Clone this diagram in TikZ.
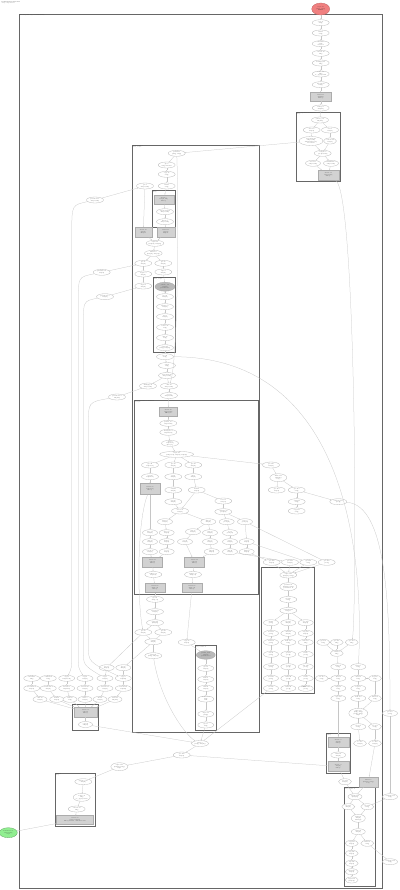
\documentclass[tikz,border=0pt]{standalone}
\usetikzlibrary{shapes.geometric,arrows.meta}
\definecolor{rootred}{RGB}{240,128,128}
\definecolor{leafgreen}{RGB}{144,238,144}
\begin{document}
\begin{tikzpicture}[x=1mm, y=-1mm,
      op/.style = {ellipse, draw=gray!55, line width=0.3mm, fill=white,
                   inner sep=0pt, minimum width=17mm, minimum height=6mm,
                   align=center, text=black!85, font=\fontsize{3.6}{4.2}\selectfont},
      fus/.style = {rectangle, draw=gray!65, fill=gray!35, line width=0.3mm,
                    inner sep=0.4mm, minimum width=20mm, minimum height=9mm,
                    align=center, text=black!85, font=\fontsize{3.6}{4.2}\selectfont},
      parm/.style = {op, fill=gray!55, draw=gray!70},
      rootop/.style = {op, fill=rootred, draw=rootred!80!black, minimum width=18mm, minimum height=12mm},
      leafop/.style = {op, fill=leafgreen, draw=leafgreen!70!black, minimum width=18mm, minimum height=10mm},
      grp/.style = {draw=black!60, line width=0.45mm},
      grplabel/.style = {anchor=north west, inner sep=0.5mm, align=left,
                         text=black!80, font=\fontsize{3}{3.5}\selectfont},
      wire/.style = {-{Stealth[length=1.1mm,width=0.9mm]}, draw=gray!45, line width=0.25mm}
    ]
    \fill[white] (0,0) rectangle (400,890);
    \useasboundingbox (0,0) rectangle (400,890);

    % Title and clusters
    \node[grplabel, font=\fontsize{3.4}{3.9}\selectfont] (title) at (1,1) {\textbf{Computation main.102}\\entry computation};
    \draw[grp] (19,14.3) rectangle (382,888.3);
    \node[grplabel] (outerlbl) at (19,14.3) {main.102 (while loop, 187 instructions)};
    \draw[grp] (296,112.3) rectangle (340,181);
    \node[grplabel] (lbl1) at (296,112.3) {Fused expression for fusion.31\\kLoop};
    \draw[grp] (132.3,145) rectangle (259,732);
    \node[grplabel] (lbl2) at (132.3,145) {Body of while.5\\while\_body.4};
    \draw[grp] (152.3,190) rectangle (175.3,227.3);
    \node[grplabel] (lbl3) at (152.3,190) {fusion.9\\kLoop};
    \draw[grp] (153.3,277) rectangle (175.5,352.3);
    \node[grplabel] (lbl4) at (153.3,277) {Body of while.12\\while\_body.7};
    \draw[grp] (134.3,400) rectangle (258.3,594.3);
    \node[grplabel] (lbl5) at (134.3,400) {Fused expression for fusion.40\\kOutput};
    \draw[grp] (261.7,567.3) rectangle (314.3,693.3);
    \node[grplabel] (lbl6) at (261.7,567.3) {Condition of while.5};
    \draw[grp] (195,645.7) rectangle (216.7,730);
    \node[grplabel] (lbl7) at (195,645.7) {Body of while.21};
    \draw[grp] (72.7,704) rectangle (98.3,730.5);
    \node[grplabel] (lbl8) at (72.7,704) {fusion.51};
    \draw[grp] (326.7,733.3) rectangle (350,773.3);
    \node[grplabel] (lbl9) at (326.7,733.3) {fusion.55\\kLoop};
    \draw[grp] (344,787.7) rectangle (375,886.7);
    \node[grplabel] (lbl10) at (344,787.7) {Body of while.18};
    \draw[grp] (55,773.3) rectangle (95.7,826.7);
    \node[grplabel] (lbl11) at (55,773.3) {fusion.60\\kLoop};

    % Nodes: result chain
    \node[rootop] (out) at (320.7,9) {tuple.88\\(f32[], s32[])\\ROOT};
    \node[op] (t1) at (320.7,22.7) {copy.51\\s32[]};
    \node[op] (t2) at (320.7,33) {add.73\\s32[]};
    \node[op] (t3) at (320.7,43.7) {constant.9\\s32[]\\value=1};
    \node[op] (t4) at (320.7,53.3) {convert.12\\f32[]};
    \node[op] (t5) at (320.7,63) {multiply.40\\f32[]};
    \node[op] (t6) at (320.7,74) {reduce.17\\f32[]\\to\_apply=sum};
    \node[op] (t7) at (320.7,84.7) {bitcast.22\\f32[1]};
    \node[fus, minimum width=21mm] (t8) at (320.7,96.7) {fusion.31\\f32[128]\\kLoop};
    \node[op] (t9) at (320.7,108) {reshape.6\\f32[128]};

    % Nodes: fusion.31
    \node[op] (u1) at (320,120) {param\_0.4\\f32[128]};
    \node[op] (u2) at (311.7,130) {slice.18\\f32[64]};
    \node[op] (u3) at (330,130) {iota.3\\s32[64]};
    \node[op, minimum width=24mm, minimum height=9mm] (u4) at (311,141) {broadcast.27\\f32[64,128]\\dimensions=\{0\}\\broadcast};
    \node[op, minimum width=13mm] (u5) at (330,141) {convert.44\\f32[64]};
    \node[op] (u6) at (322.7,153.3) {compare.8\\pred[64,128]};
    \node[op, minimum width=15mm] (u7) at (313,163.3) {select.15\\f32[64,128]};
    \node[op, minimum width=15mm] (u8) at (331,163.3) {maximum.6\\f32[64,128]};
    \node[fus, minimum width=21mm, minimum height=10mm] (u9) at (328.3,175) {fusion.32\\f32[64,128]\\kLoop};

    % Nodes: while body, upper part
    \node[op] (a1) at (176.7,153.3) {param.11\\(s32[], f32[])};
    \node[op] (a2) at (166.7,165) {gte.7\\s32[] index=0};
    \node[op] (a3) at (166.7,174.3) {copy.19\\s32[]};
    \node[op] (a4) at (145,186) {gte.8\\f32[64,128]};
    \node[op] (a5) at (166.7,186) {add.21\\s32[]};
    \node[fus] (a6) at (163.8,199.3) {fusion.9\\f32[64,128]\\kLoop};
    \node[op] (a7) at (165,211.7) {exponential.2\\f32[64,128]};
    \node[op] (a8) at (165,221.7) {divide.6\\f32[64,128]};
    \node[fus, minimum width=17mm, minimum height=10mm] (a9) at (143.3,232) {fusion.10\\f32[64]\\kInput};
    \node[fus, minimum width=18mm, minimum height=10mm] (a10) at (165.8,232) {fusion.11\\f32[64]\\kInput};
    \node[op] (a11) at (155,243.3) {tuple.14\\(f32[64], f32[64])};
    \node[op] (a12) at (153.3,253.3) {while.12\\(f32[64], f32[64])};
    \node[op] (a13) at (143.3,263.3) {gte.15\\f32[64]};
    \node[op] (a14) at (163.3,263.3) {gte.16\\f32[64]};
    \node[op] (a15) at (143.3,274) {negate.3\\f32[64]};
    \node[op] (a16) at (163.3,272) {sqrt.4\\f32[64]};
    \node[op] (a17) at (143.3,286) {rsqrt.2\\f32[64]};
    \node[parm, minimum width=20mm, minimum height=9mm] (a18) at (165,286.7) {param\_1.2\\f32[64]\\parameter 1};
    \node[op] (a19) at (165,296.7) {gte.23\\f32[64]};
    \node[op] (a20) at (165,306.7) {subtract.5\\f32[64]};
    \node[op] (a21) at (165,316.7) {abs.3\\f32[64]};
    \node[op] (a22) at (165,327.3) {reduce.25\\f32[]};
    \node[op] (a23) at (165,337.7) {add.26\\f32[]};
    \node[op] (a24) at (165,347.7) {tuple.27\\(f32[], f32[64])};
    \node[op] (a25) at (165,356.7) {gte.28\\f32[]};
    \node[op] (a26) at (167,365.5) {sqrt.8\\f32[]};
    \node[op] (a27) at (167,375.5) {broadcast.30\\f32[64,128]};
    \node[op] (a28) at (148,386) {multiply.31\\f32[64,128]};
    \node[op] (a29) at (169,386) {add.32\\f32[64,128]};
    \node[op] (a30) at (169,395.5) {copy.33\\f32[64,128]};

    % Nodes: parameters on the left
    \node[op] (p1) at (95,200) {parameter.1\\f32[64,128]};
    \node[op] (p2) at (101.7,272.3) {parameter.2\\f32[64]};
    \node[op] (p3) at (105,296.7) {parameter.3\\f32[64]};
    \node[op] (p4) at (117,397) {parameter.4\\f32[128]};

    % Nodes: fusion.40
    \node[fus, minimum width=18mm, minimum height=9.5mm] (b1) at (168.3,411.7) {fusion.40\\f32[64,128]\\kOutput};
    \node[op] (b2) at (168.3,423.3) {param\_0.9\\f32[64,128]};
    \node[op] (b3) at (168.3,432.3) {transpose.4\\f32[128,64]};
    \node[op] (b4) at (170,443.3) {dot.12\\f32[64,64]\\lhs=\{1\}};
    \node[op, minimum width=34mm] (b5) at (176.7,454.3) {tuple.41\\(f32[64,64], f32[64], f32[64])};
    \node[op] (b6) at (150,465) {gte.42\\f32[64,64]};
    \node[op] (b7) at (173.3,465) {gte.43\\f32[64]};
    \node[op] (b8) at (193.3,465) {gte.44\\f32[64]};
    \node[op] (b9) at (150,476.7) {copy.45\\f32[64,64]};
    \node[op] (b10) at (173.3,476.7) {log.2\\f32[64]};
    \node[op] (b11) at (193.3,476.7) {exp.3\\f32[64]};
    \node[fus, minimum width=20mm, minimum height=11mm] (b12) at (150,489) {fusion.46\\f32[64,64]\\kLoop};
    \node[op] (b13) at (173.3,490) {add.47\\f32[64]};
    \node[op] (b14) at (196.7,490) {mul.48\\f32[64]};
    \node[op] (b15) at (173.3,501.7) {neg.49\\f32[64]};
    \node[op] (b16) at (180,511) {select.50\\f32[64]};
    \node[op] (b17) at (223.3,501) {iota.51\\s32[64]};
    \node[op] (b18) at (223.3,511.7) {compare.52\\pred[64]};
    \node[op, minimum width=15mm] (b19) at (165,521.7) {max.53\\f32[64]};
    \node[op, minimum width=15mm] (b20) at (208.3,521.7) {min.54\\f32[64]};
    \node[op, minimum width=15mm] (b21) at (226.7,521.7) {and.55\\pred[64]};
    \node[op, minimum width=15mm] (b22) at (245,521.7) {not.56\\pred[64]};
    \node[op, minimum width=15mm] (b23) at (150,532.7) {slice.57\\f32[32]};
    \node[op, minimum width=15mm] (b24) at (166.7,532.7) {slice.58\\f32[32]};
    \node[op, minimum width=15mm] (b25) at (193,531.7) {pad.59\\f32[64]};
    \node[op, minimum width=15mm] (b26) at (210,532.7) {sub.60\\f32[64]};
    \node[op, minimum width=15mm] (b27) at (230,532.7) {or.61\\pred[64]};
    \node[op, minimum width=15mm] (b28) at (150,541.7) {add.62\\f32[32]};
    \node[op, minimum width=15mm] (b29) at (166.7,541.7) {mul.63\\f32[32]};
    \node[op, minimum width=15mm] (b30) at (185,541.7) {cvt.64\\f32[64]};
    \node[op, minimum width=15mm] (b31) at (210,541.7) {abs.65\\f32[64]};
    \node[op, minimum width=15mm] (b32) at (230,541.7) {sel.66\\f32[64]};
    \node[op, minimum width=15mm] (b33) at (246.7,541.7) {cvt.67\\f32[64]};
    \node[op, minimum width=15mm] (b34) at (150,551.7) {concat.68\\f32[64]};
    \node[op, minimum width=15mm] (b35) at (166.7,551.7) {rev.69\\f32[64]};
    \node[op, minimum width=15mm] (b36) at (211.7,551.7) {sqrt.70\\f32[64]};
    \node[op, minimum width=15mm] (b37) at (230,551.7) {add.71\\f32[64]};
    \node[op, minimum width=15mm] (b38) at (246.7,551.7) {max.72\\f32[64]};
    \node[fus, minimum height=10mm] (b39) at (152.5,562) {fusion.73\\f32[64]\\kLoop};
    \node[fus, minimum height=10mm] (b40) at (194.5,562) {fusion.74\\f32[64]\\kLoop};
    \node[op] (b41) at (153.3,574.5) {reshape.75\\f32[1,64]};
    \node[op] (b42) at (193,574.5) {reshape.76\\f32[1,64]};
    \node[fus] (b43) at (155,588) {fusion.77\\f32[1,64]\\kLoop};
    \node[fus] (b44) at (192,588) {fusion.78\\f32[1,64]\\kLoop};

    % Nodes: while body, lower part
    \node[op] (d1) at (155,599.3) {gte.80\\f32[1,64]};
    \node[op] (d2) at (155,611.7) {bitcast.81\\f32[64]};
    \node[op] (d3) at (155,622.7) {tuple.82\\(f32[64])};
    \node[op] (d4) at (143.3,632.3) {gte.83\\f32[64]};
    \node[op] (d5) at (163.3,632.3) {gte.84\\f32[64]};
    \node[op] (d6) at (153.3,641.7) {add.85\\f32[64]};
    \node[op] (d7) at (186.7,642.3) {copy.86\\f32[64]};
    \node[op] (d8) at (153.3,655.7) {tuple.87\\(s32[], f32[64])};
    \node[parm, minimum width=19mm, minimum height=8.5mm] (e1) at (205.8,655) {param\_0.12\\f32[64]\\parameter 0};
    \node[op, minimum width=16mm] (e2) at (205.8,668.3) {gte.90\\f32[64]};
    \node[op, minimum width=16mm] (e3) at (205.8,679.3) {mul.91\\f32[64]};
    \node[op, minimum width=16mm] (e4) at (205.8,688.3) {add.92\\f32[64]};
    \node[op, minimum width=16mm] (e5) at (205.8,699) {reduce.93\\f32[]\\sum};
    \node[op, minimum width=16mm] (e6) at (205.8,714) {tuple.94\\(f32[])};
    \node[op, minimum width=16mm] (e7) at (205.8,725) {gte.95\\f32[]};

    % Nodes: left rows
    \node[op, minimum width=15mm] (q1) at (106.7,667.7) {gte.96\\f32[64]};
    \node[op, minimum width=15mm] (q2) at (123.3,667.7) {gte.97\\f32[64]};
    \node[op, minimum width=16mm] (m1) at (31.7,678.3) {constant.1\\f32[]};
    \node[op, minimum width=16mm] (m2) at (48.3,678.3) {constant.2\\f32[]};
    \node[op, minimum width=16mm] (m3) at (66.7,678.3) {copy.3\\f32[64,128]};
    \node[op, minimum width=16mm] (m4) at (85,678.3) {copy.4\\f32[64]};
    \node[op, minimum width=16mm] (m5) at (105,678.3) {copy.5\\f32[64]};
    \node[op, minimum width=16mm] (m6) at (123.3,678.3) {copy.6\\f32[128]};
    \node[op, minimum width=16mm] (n1) at (31.7,688.3) {broadcast.7\\f32[64]};
    \node[op, minimum width=16mm] (n2) at (48.3,688.3) {broadcast.8\\f32[64]};
    \node[op, minimum width=16mm] (n3) at (66.7,688.3) {bitcast.9\\f32[8192]};
    \node[op, minimum width=16mm] (n4) at (85,688.3) {bitcast.10\\f32[64]};
    \node[op, minimum width=16mm] (n5) at (105,688.3) {bitcast.11\\f32[64]};
    \node[op, minimum width=16mm] (n6) at (123.3,688.3) {bitcast.12\\f32[128]};
    \node[op, minimum width=14mm] (o1) at (40,699.3) {add.13\\f32[64]};
    \node[op, minimum width=14mm] (o2) at (56.7,699.3) {mul.14\\f32[64]};
    \node[op, minimum width=14mm] (o3) at (70,699.3) {sum.15\\f32[]};
    \node[op, minimum width=14mm] (o4) at (85,699.3) {sub.16\\f32[64]};
    \node[op, minimum width=14mm] (o5) at (100,699.3) {div.17\\f32[64]};
    \node[op, minimum width=14mm] (o6) at (115,699.3) {max.18\\f32[128]};
    \node[fus, minimum width=23mm, minimum height=10mm] (w1) at (85.5,712) {fusion.51\\f32[64]\\kLoop};
    \node[op, minimum width=14mm] (w2) at (85.5,724.5) {copy.52\\f32[64]};

    % Nodes: bottom exit
    \node[op] (f1) at (200,743.5) {while.5\\(s32[], f32[64])};
    \node[op] (f2) at (181.7,755) {gte.100\\f32[64]};
    \node[op, minimum height=8mm] (f3) at (119.3,766.7) {tuple.101\\(f32[64], f32[])\\tuple};
    \node[op] (g1) at (83.3,781.7) {param\_0.60\\f32[64]};
    \node[op, minimum height=8mm] (g2) at (81.7,797.3) {reduce.61\\f32[]\\to\_apply=max};
    \node[op] (g3) at (76.7,809) {convert.62\\f32[]};
    \node[fus, minimum width=37mm, minimum height=9mm] (g4) at (75,820) {fusion.60\\(f32[], f32[64])\\kLoop fusion, calls=fused.60};
    \node[leafop] (leaf) at (8.3,832.7) {Parameter 0\\f32[64,128]\\arg0};

    % Nodes: right side
    \node[op] (s1) at (271,465) {gte.110\\f32[64]};
    \node[op, minimum height=8mm] (s2) at (278.3,477.7) {while.111\\(f32[64])\\loop};
    \node[op] (s3) at (276.7,490) {gte.112\\f32[64]};
    \node[op] (s4) at (296.7,490) {gte.113\\s32[]};
    \node[op] (s5) at (296.7,501.7) {add.114\\s32[]};
    \node[op] (s6) at (296.7,511) {copy.115\\s32[]};
    \node[op] (s7) at (338.3,501.7) {compare.116\\pred[]};
    \node[op] (v1) at (271.7,562.3) {gte.120\\f32[64]};
    \node[op] (v2) at (290,562.3) {gte.121\\f32[64]};
    \node[op] (v3) at (308.3,562.3) {gte.122\\s32[]};
    \node[op] (v4) at (326.7,562.3) {gte.123\\pred[]};
    \node[op] (k1) at (288.3,575) {tuple.124\\(f32[64], s32[])};
    \node[op, minimum height=8mm] (k2) at (288.3,586.7) {param.125\\(f32[64], s32[])\\parameter 0};
    \node[op] (k3) at (288.3,599.5) {gte.126\\s32[]};
    \node[op] (k4) at (288.3,610.5) {constant.127\\s32[] 16};
    \node[op, minimum width=15mm] (k5) at (271,622.7) {lt.128\\pred[]};
    \node[op, minimum width=15mm] (k6) at (288.3,622.7) {gte.129\\f32[64]};
    \node[op, minimum width=15mm] (k7) at (305.7,622.7) {gte.130\\f32[64]};
    \node[op, minimum width=15mm] (k8) at (271,633.3) {not.131\\pred[]};
    \node[op, minimum width=15mm] (k9) at (288.3,633.3) {abs.132\\f32[64]};
    \node[op, minimum width=15mm] (k10) at (305.7,633.3) {neg.133\\f32[64]};
    \node[op, minimum width=15mm] (k11) at (271,642.3) {and.134\\pred[]};
    \node[op, minimum width=15mm] (k12) at (288.3,642.3) {max.135\\f32[]};
    \node[op, minimum width=15mm] (k13) at (305.7,642.3) {min.136\\f32[]};
    \node[op, minimum width=15mm] (k14) at (271,654.3) {or.137\\pred[]};
    \node[op, minimum width=15mm] (k15) at (288.3,654.3) {gt.138\\pred[]};
    \node[op, minimum width=15mm] (k16) at (305.7,654.3) {lt.139\\pred[]};
    \node[op, minimum width=15mm] (k17) at (271,666.7) {and.140\\pred[]};
    \node[op, minimum width=15mm] (k18) at (288.3,666.7) {or.141\\pred[]};
    \node[op, minimum width=15mm] (k19) at (305.7,666.7) {xor.142\\pred[]};
    \node[op, minimum width=15mm] (k20) at (271,678.3) {not.143\\pred[]};
    \node[op, minimum width=15mm] (k21) at (288.3,678.3) {and.144\\pred[]};
    \node[op, minimum width=15mm] (k22) at (305.7,678.3) {or.145\\pred[]};
    \node[op, minimum width=15mm] (k23) at (271,688.3) {sel.146\\pred[]};
    \node[op, minimum width=15mm] (k24) at (288.3,688.3) {and.147\\pred[]};
    \node[op, minimum width=15mm] (k25) at (305.7,688.3) {ROOT.148\\pred[]};
    \node[op, minimum width=13mm] (x1) at (323.3,642.3) {gte.150\\f32[]};
    \node[op, minimum width=13mm] (x2) at (336.7,642.3) {gte.151\\f32[]};
    \node[op, minimum width=13mm] (x3) at (351.7,642.3) {gte.152\\f32[]};
    \node[op, minimum width=13mm] (x4) at (336.7,653.3) {add.153\\f32[]};
    \node[op, minimum width=15mm] (y1) at (338.3,666.7) {mul.154\\f32[]};
    \node[op, minimum width=15mm] (y2) at (358.3,666.7) {sub.155\\f32[]};
    \node[op, minimum width=13mm] (y3) at (321.7,678.3) {cvt.156\\s32[]};
    \node[op, minimum width=15mm] (y4) at (338.3,678.3) {div.157\\f32[]};
    \node[op, minimum width=15mm] (y5) at (358.3,678.3) {abs.158\\f32[]};
    \node[op, minimum width=13mm] (y6) at (375,678.3) {neg.159\\f32[]};
    \node[op, minimum width=15mm] (y7) at (338.3,688.3) {exp.160\\f32[]};
    \node[op, minimum width=15mm] (y8) at (358.3,688.3) {log.161\\f32[]};
    \node[op, minimum width=15mm] (y9) at (338.3,698.3) {copy.162\\f32[]};
    \node[op, minimum width=15mm] (y10) at (358.3,698.3) {max.163\\f32[]};
    \node[op, minimum width=13mm] (y11) at (375,698.3) {min.164\\f32[]};
    \node[op, minimum width=19mm, minimum height=10mm] (y12) at (358.3,713.3) {tuple.165\\(f32[], f32[])\\(f32[], s32[])\\tuple};
    \node[op, minimum width=15mm] (y13) at (390,713.3) {gte.166\\pred[]};
    \node[op, minimum width=15mm] (y14) at (358.3,726.7) {gte.167\\f32[]};
    \node[op, minimum width=13mm] (y15) at (375,726.7) {gte.168\\f32[]};
    \node[op, minimum width=13mm] (y16) at (360,743.3) {bc.169\\f32[64]};
    \node[op, minimum width=13mm] (y17) at (375,743.3) {bc.170\\f32[64]};
    \node[fus, minimum width=21mm, minimum height=10mm] (z1) at (338.3,742) {fusion.55\\f32[64]\\kLoop};
    \node[op, minimum width=15mm] (z2) at (338.3,755) {add.171\\f32[64]};
    \node[fus, minimum width=21mm, minimum height=10mm] (z3) at (338.3,766.5) {fusion.56\\f32[64]\\kLoop};
    \node[op, minimum width=13mm] (z4) at (345,781.7) {gte.172\\f32[64]};
    \node[fus, minimum width=19mm, minimum height=10mm] (z5) at (368.3,781.7) {while.18\\(f32[64], s32[])\\loop};
    \node[op, minimum width=14mm] (ww1) at (355,796.7) {param.180\\(f32[64])};
    \node[op, minimum width=13mm] (ww2) at (348.3,806.7) {gte.181\\f32[64]};
    \node[op, minimum width=13mm] (ww3) at (367.3,806.7) {gte.182\\s32[]};
    \node[op, minimum width=14mm, minimum height=8mm] (ww4) at (358.3,818.3) {mul.183\\f32[64]\\multiply};
    \node[op, minimum width=14mm] (ww5) at (358.3,831.7) {add.184\\f32[64]};
    \node[op, minimum width=13mm] (ww6) at (351.7,843.3) {copy.185\\f32[64]};
    \node[op, minimum width=13mm] (ww7) at (367.3,843.3) {add.186\\s32[]};
    \node[op, minimum width=13mm] (ww8) at (351.7,853.3) {neg.187\\f32[64]};
    \node[op, minimum width=13mm] (ww9) at (351.7,863.3) {exp.188\\f32[64]};
    \node[op, minimum width=13mm] (ww10) at (351.7,871.7) {max.189\\f32[64]};
    \node[op, minimum width=13mm] (ww11) at (351.7,880) {tuple.190\\(f32[64])};
    \node[op, minimum width=15mm] (oo1) at (390,796.7) {constant.191\\f32[]};
    \node[op, minimum width=15mm] (oo2) at (390,861.7) {constant.192\\s32[]};

    % Arrows: result chain and fusion.31
    \draw[wire] (out) -- (t1);
    \draw[wire] (t1) -- (t2);
    \draw[wire] (t2) -- (t3);
    \draw[wire] (t3) -- (t4);
    \draw[wire] (t4) -- (t5);
    \draw[wire] (t5) -- (t6);
    \draw[wire] (t6) -- (t7);
    \draw[wire] (t7) -- (t8);
    \draw[wire] (t8) -- (t9);
    \draw[wire] (t9) -- (u1);
    \draw[wire] (u1) -- (u2);
    \draw[wire] (u1) -- (u3);
    \draw[wire] (u2) -- (u4);
    \draw[wire] (u3) -- (u5);
    \draw[wire] (u4) -- (u6);
    \draw[wire] (u5) -- (u6);
    \draw[wire] (u6) -- (u7);
    \draw[wire] (u6) -- (u8);
    \draw[wire] (u7) -- (u9);
    \draw[wire] (u8) -- (u9);
    \draw[wire] (u4) -- (a1);
    \draw[wire] (u9) .. controls (357,195) and (357,615) .. (x3);

    % Arrows: while body
    \draw[wire] (a1) -- (a2);
    \draw[wire] (a2) -- (a3);
    \draw[wire] (a3) -- (a5);
    \draw[wire] (p1) -- (a4);
    \draw[wire] (a5) -- (a6);
    \draw[wire] (a6) -- (a7);
    \draw[wire] (a7) -- (a8);
    \draw[wire] (a8) -- (a10);
    \draw[wire] (a4) -- (a9);
    \draw[wire] (a9) -- (a11);
    \draw[wire] (a10) -- (a11);
    \draw[wire] (a11) -- (a12);
    \draw[wire] (a12) -- (a13);
    \draw[wire] (a12) -- (a14);
    \draw[wire] (p2) -- (a13);
    \draw[wire] (a13) -- (a15);
    \draw[wire] (a14) -- (a16);
    \draw[wire] (a15) -- (a17);
    \draw[wire] (p3) -- (a17);
    \draw[wire] (a16) -- (a18);
    \draw[wire] (a18) -- (a19);
    \draw[wire] (a19) -- (a20);
    \draw[wire] (a20) -- (a21);
    \draw[wire] (a21) -- (a22);
    \draw[wire] (a22) -- (a23);
    \draw[wire] (a23) -- (a24);
    \draw[wire] (a24) -- (a25);
    \draw[wire] (a25) -- (a26);
    \draw[wire] (a26) -- (a27);
    \draw[wire] (a27) -- (a28);
    \draw[wire] (a27) -- (a29);
    \draw[wire] (a29) -- (a30);
    \draw[wire] (p4) -- (a28);
    \draw[wire] (a30) -- (b1);
    \draw[wire] (a1) .. controls (178.5,200) and (178.5,360) .. (a29);
    \draw[wire] (a25) .. controls (365,357) and (362,600) .. (y2);
    \draw[wire] (p1) .. controls (72,205) .. (71.7,230) -- (71.7,655) .. controls (71.7,668) .. (m3);
    \draw[wire] (p2) .. controls (78.3,277) .. (78.3,300) -- (78.3,655) .. controls (78.3,668) .. (m4);
    \draw[wire] (p3) .. controls (83.3,301) .. (83.3,325) -- (83.3,650) .. controls (83.3,665) .. (m5);
    \draw[wire] (p4) .. controls (88.3,402) .. (88.3,425) -- (88.3,645) .. controls (88.3,662) .. (m6);

    % Arrows: fusion.40
    \draw[wire] (b1) -- (b2);
    \draw[wire] (b2) -- (b3);
    \draw[wire] (b3) -- (b4);
    \draw[wire] (b4) -- (b5);
    \draw[wire] (b5) -- (b6);
    \draw[wire] (b5) -- (b7);
    \draw[wire] (b5) -- (b8);
    \draw[wire] (b5) -- (s1);
    \draw[wire] (b6) -- (b9);
    \draw[wire] (b7) -- (b10);
    \draw[wire] (b8) -- (b11);
    \draw[wire] (b9) -- (b12);
    \draw[wire] (b10) -- (b13);
    \draw[wire] (b11) -- (b14);
    \draw[wire] (b13) -- (b15);
    \draw[wire] (b15) -- (b16);
    \draw[wire] (b14) -- (b16);
    \draw[wire] (b14) -- (b17);
    \draw[wire] (b17) -- (b18);
    \draw[wire] (b16) -- (b19);
    \draw[wire] (b16) -- (b20);
    \draw[wire] (b18) -- (b21);
    \draw[wire] (b18) -- (b22);
    \draw[wire] (b12) -- (b23);
    \draw[wire] (b19) -- (b24);
    \draw[wire] (b20) -- (b25);
    \draw[wire] (b20) -- (b26);
    \draw[wire] (b21) -- (b27);
    \draw[wire] (b23) -- (b28);
    \draw[wire] (b24) -- (b29);
    \draw[wire] (b25) -- (b30);
    \draw[wire] (b26) -- (b31);
    \draw[wire] (b27) -- (b32);
    \draw[wire] (b22) -- (b33);
    \draw[wire] (b28) -- (b34);
    \draw[wire] (b29) -- (b35);
    \draw[wire] (b31) -- (b36);
    \draw[wire] (b32) -- (b37);
    \draw[wire] (b33) -- (b38);
    \draw[wire] (b34) -- (b39);
    \draw[wire] (b35) -- (b39);
    \draw[wire] (b30) -- (b40);
    \draw[wire] (b36) -- (b40);
    \draw[wire] (b39) -- (b41);
    \draw[wire] (b40) -- (b42);
    \draw[wire] (b41) -- (b43);
    \draw[wire] (b42) -- (b44);
    \draw[wire] (b12) .. controls (137,520) and (137,600) .. (d4);
    \draw[wire] (b22) -- (v4);
    \draw[wire] (b33) -- (v3);
    \draw[wire] (b37) -- (v2);
    \draw[wire] (b38) -- (v1);

    % Arrows: while body, lower part
    \draw[wire] (b43) -- (d1);
    \draw[wire] (d1) -- (d2);
    \draw[wire] (d2) -- (d3);
    \draw[wire] (d3) -- (d4);
    \draw[wire] (d3) -- (d5);
    \draw[wire] (d4) -- (d6);
    \draw[wire] (d5) -- (d6);
    \draw[wire] (b44) -- (d7);
    \draw[wire] (d6) -- (d8);
    \draw[wire] (d7) -- (e1);
    \draw[wire] (e1) -- (e2);
    \draw[wire] (e2) -- (e3);
    \draw[wire] (e3) -- (e4);
    \draw[wire] (e4) -- (e5);
    \draw[wire] (e5) -- (e6);
    \draw[wire] (e6) -- (e7);
    \draw[wire] (e7) -- (f1);
    \draw[wire] (d8) .. controls (160,700) and (185,735) .. (f1);
    \draw[wire] (d4) -- (q1);
    \draw[wire] (d6) -- (q2);
    \draw[wire] (q1) -- (m5);
    \draw[wire] (q2) -- (m6);

    % Arrows: left rows
    \draw[wire] (m1) -- (n1);
    \draw[wire] (m2) -- (n2);
    \draw[wire] (m3) -- (n3);
    \draw[wire] (m4) -- (n4);
    \draw[wire] (m5) -- (n5);
    \draw[wire] (m6) -- (n6);
    \draw[wire] (n1) -- (o1);
    \draw[wire] (n2) -- (o2);
    \draw[wire] (n3) -- (o3);
    \draw[wire] (n4) -- (o4);
    \draw[wire] (n5) -- (o5);
    \draw[wire] (n6) -- (o6);
    \draw[wire] (o1) -- (w1);
    \draw[wire] (o2) -- (w1);
    \draw[wire] (o3) -- (w1);
    \draw[wire] (o4) -- (w1);
    \draw[wire] (o5) -- (w1);
    \draw[wire] (o6) -- (w1);
    \draw[wire] (w1) -- (w2);
    \draw[wire] (w2) -- (f1);

    % Arrows: bottom exit
    \draw[wire] (f1) -- (f2);
    \draw[wire] (f2) -- (f3);
    \draw[wire] (f3) -- (g1);
    \draw[wire] (g1) -- (g2);
    \draw[wire] (g2) -- (g3);
    \draw[wire] (g3) -- (g4);
    \draw[wire] (g4) -- (leaf);

    % Arrows: right side
    \draw[wire] (s1) -- (s2);
    \draw[wire] (s2) -- (s3);
    \draw[wire] (s2) -- (s4);
    \draw[wire] (s4) -- (s5);
    \draw[wire] (s5) -- (s6);
    \draw[wire] (s4) -- (s7);
    \draw[wire] (s7) .. controls (386,505) and (390,600) .. (y13);
    \draw[wire] (v1) -- (k1);
    \draw[wire] (v2) -- (k1);
    \draw[wire] (v3) -- (k1);
    \draw[wire] (v4) -- (k1);
    \draw[wire] (k1) -- (k2);
    \draw[wire] (k2) -- (k3);
    \draw[wire] (k3) -- (k4);
    \draw[wire] (k4) -- (k5);
    \draw[wire] (k4) -- (k6);
    \draw[wire] (k4) -- (k7);
    \draw[wire] (k5) -- (k8);
    \draw[wire] (k6) -- (k9);
    \draw[wire] (k7) -- (k10);
    \draw[wire] (k8) -- (k11);
    \draw[wire] (k9) -- (k12);
    \draw[wire] (k10) -- (k13);
    \draw[wire] (k11) -- (k14);
    \draw[wire] (k12) -- (k15);
    \draw[wire] (k13) -- (k16);
    \draw[wire] (k14) -- (k17);
    \draw[wire] (k15) -- (k18);
    \draw[wire] (k16) -- (k19);
    \draw[wire] (k17) -- (k20);
    \draw[wire] (k18) -- (k21);
    \draw[wire] (k19) -- (k22);
    \draw[wire] (k20) -- (k23);
    \draw[wire] (k21) -- (k24);
    \draw[wire] (k22) -- (k25);
    \draw[wire] (k23) -- (f1);
    \draw[wire] (x1) -- (x4);
    \draw[wire] (x2) -- (x4);
    \draw[wire] (x3) -- (x4);
    \draw[wire] (x4) -- (y1);
    \draw[wire] (y1) -- (y4);
    \draw[wire] (y2) -- (y5);
    \draw[wire] (y3) -- (y4);
    \draw[wire] (y5) -- (y6);
    \draw[wire] (y4) -- (y7);
    \draw[wire] (y5) -- (y8);
    \draw[wire] (y7) -- (y9);
    \draw[wire] (y8) -- (y10);
    \draw[wire] (y6) -- (y11);
    \draw[wire] (y10) -- (y12);
    \draw[wire] (y11) -- (y12);
    \draw[wire] (y12) -- (y14);
    \draw[wire] (y12) -- (y15);
    \draw[wire] (y14) -- (y16);
    \draw[wire] (y15) -- (y17);
    \draw[wire] (y9) -- (z1);
    \draw[wire] (z1) -- (z2);
    \draw[wire] (z2) -- (z3);
    \draw[wire] (z3) -- (z4);
    \draw[wire] (y17) -- (z5);
    \draw[wire] (z3) -- (f2);
    \draw[wire] (z4) -- (ww1);
    \draw[wire] (z5) -- (ww1);
    \draw[wire] (ww1) -- (ww2);
    \draw[wire] (ww1) -- (ww3);
    \draw[wire] (ww2) -- (ww4);
    \draw[wire] (ww3) -- (ww4);
    \draw[wire] (ww4) -- (ww5);
    \draw[wire] (ww5) -- (ww6);
    \draw[wire] (ww5) -- (ww7);
    \draw[wire] (ww6) -- (ww8);
    \draw[wire] (ww8) -- (ww9);
    \draw[wire] (ww9) -- (ww10);
    \draw[wire] (ww10) -- (ww11);
    \draw[wire] (ww7) -- (oo2);
    \draw[wire] (y13) -- (oo1);
    \draw[wire] (oo1) -- (ww3);
  \end{tikzpicture}
\end{document}
